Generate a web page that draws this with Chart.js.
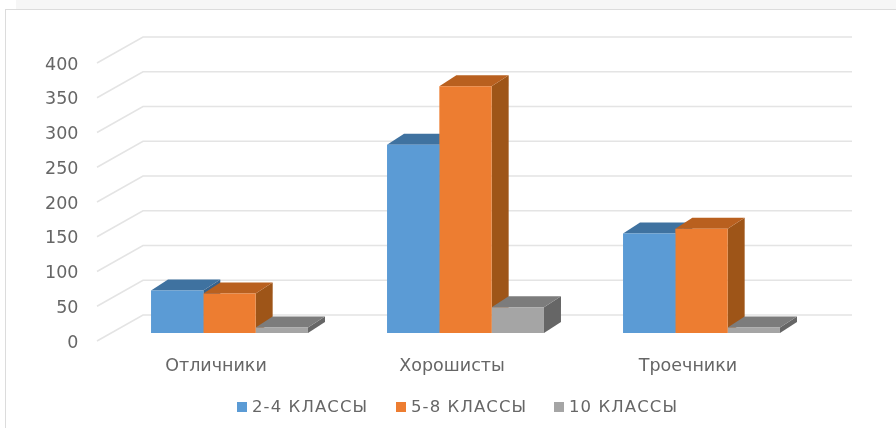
<!DOCTYPE html>
<html>
<head>
<meta charset="utf-8">
<script src="https://cdn.jsdelivr.net/npm/chart.js@4"></script>
<style>
html, body { margin: 0; padding: 0; background: #fff; }
#box { position: relative; width: 896px; height: 428px; overflow: hidden; filter: blur(0.7px); }
.item { position: absolute; top: 396px; height: 22px; line-height: 22px; white-space: nowrap;
        font: 16.5px/22px 'DejaVu Sans'; letter-spacing: 1.1px; color: #666; }
.item i { position: absolute; left: 0; top: 6px; width: 10px; height: 10px; }
.item span { margin-left: 15px; }
</style>
</head>
<body>
<div id="box"><canvas id="chart"></canvas></div>
<script>
const categories = ['Отличники', 'Хорошисты', 'Троечники'];
const seriesNames = ['2-4 КЛАССЫ', '5-8 КЛАССЫ', '10 КЛАССЫ'];
const grades24 = [61, 271, 143];
const grades58 = [57, 355, 150];
const grades10 = [8, 37, 8];
const frontColors = ['#5b9bd5', '#ed7d31', '#a5a5a5'];
const topColors = ['#3f72a0', '#b9601f', '#7c7c7c'];
const sideColors = ['#36628c', '#9e5518', '#666666'];

// fake 3d: wall + floor depth of the excel chart
const barLift = 10;
const barDepth = { x: 17, y: 11 };
const wall = { x: 46, y: 26, start: 97, end: 852, drop: -2 };
const legendLeft = [237, 396, 554];

function poly(ctx, pts, color) {
    ctx.fillStyle = color;
    ctx.beginPath();
    pts.forEach((p, i) => i ? ctx.lineTo(p[0], p[1]) : ctx.moveTo(p[0], p[1]));
    ctx.closePath();
    ctx.fill();
}

const depthPlugin = {
    id: 'depth',
    beforeDraw(chart) {
        const ctx = chart.ctx;
        ctx.save();
        ctx.fillStyle = '#f6f6f6';
        ctx.fillRect(16, 0, 880, 9);
        ctx.fillStyle = '#dcdcdc';
        ctx.fillRect(5, 9, 891, 1);
        ctx.fillRect(5, 9, 1, 419);
        ctx.restore();
    },
    beforeDatasetsDraw(chart) {
        const ctx = chart.ctx;
        const yScale = chart.scales.y;
        ctx.save();
        ctx.strokeStyle = '#e4e4e4';
        ctx.lineWidth = 1.6;
        yScale.ticks.forEach(t => {
            const y = yScale.getPixelForValue(t.value) + wall.drop;
            ctx.beginPath();
            ctx.moveTo(wall.start, y);
            ctx.lineTo(wall.start + wall.x, y - wall.y);
            ctx.lineTo(wall.end, y - wall.y);
            ctx.stroke();
        });
        ctx.restore();

        ctx.save();
        ctx.translate(0, -barLift);
        chart.data.datasets.forEach((ds, i) => {
            chart.getDatasetMeta(i).data.forEach(bar => {
                const l = bar.x - bar.width / 2, r = bar.x + bar.width / 2;
                const dx = barDepth.x, dy = barDepth.y;
                poly(ctx, [[r, bar.y], [r + dx, bar.y - dy], [r + dx, bar.base - dy], [r, bar.base]], sideColors[i]);
                poly(ctx, [[l, bar.y], [r, bar.y], [r + dx, bar.y - dy], [l + dx, bar.y - dy]], topColors[i]);
            });
        });
    },
    afterDatasetsDraw(chart) {
        chart.ctx.restore();
    }
};

new Chart(document.getElementById('chart'), {
    type: 'bar',
    data: {
        labels: categories,
        datasets: [
            { label: seriesNames[0], data: grades24, backgroundColor: frontColors[0] },
            { label: seriesNames[1], data: grades58, backgroundColor: frontColors[1] },
            { label: seriesNames[2], data: grades10, backgroundColor: frontColors[2] }
        ]
    },
    options: {
        responsive: true,
        maintainAspectRatio: false,
        animation: false,
        devicePixelRatio: 1,
        layout: { padding: { left: 6, right: 76.5, top: 65, bottom: 0 } },
        datasets: { bar: { categoryPercentage: 0.665, barPercentage: 1 } },
        scales: {
            x: {
                grid: { display: false },
                border: { display: false },
                ticks: { color: '#666', font: { family: 'DejaVu Sans', size: 17.5 }, padding: 5, labelOffset: -13.5 },
                afterFit(s) { s.height = 85; }
            },
            y: {
                min: 0,
                max: 400,
                grid: { display: false },
                border: { display: false },
                ticks: { stepSize: 50, color: '#666', font: { family: 'DejaVu Sans', size: 17.5 }, padding: 25 },
                afterFit(s) { s.width = 105.5; }
            }
        },
        plugins: {
            tooltip: { enabled: false },
            legend: { display: false }
        }
    },
    plugins: [depthPlugin]
});

// legend as html so the items can sit where the reference has them
seriesNames.forEach((name, i) => {
    const item = document.createElement('div');
    item.className = 'item';
    item.style.left = legendLeft[i] + 'px';
    item.innerHTML = '<i style="background:' + frontColors[i] + '"></i><span>' + name + '</span>';
    document.getElementById('box').appendChild(item);
});
</script>
</body>
</html>
